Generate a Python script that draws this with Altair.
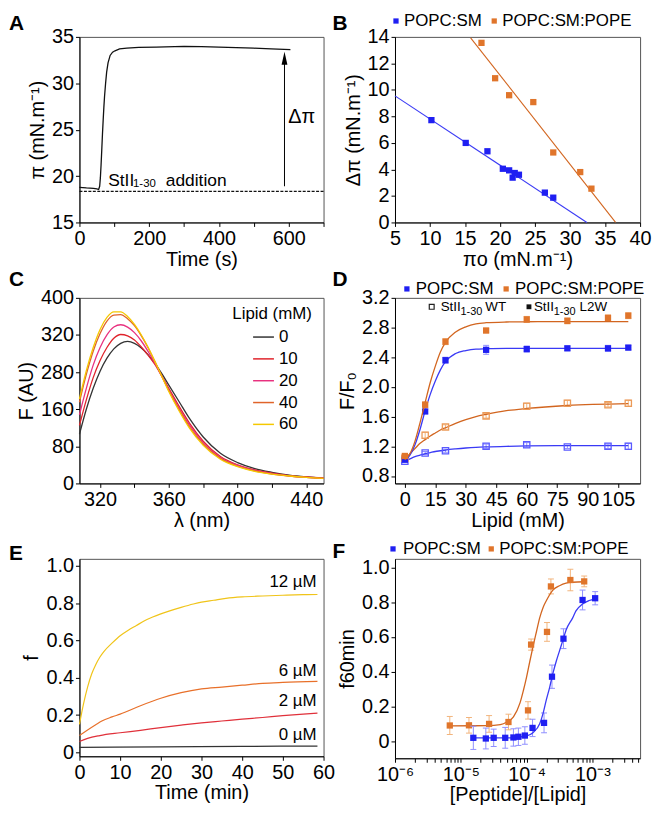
import altair as alt
import pandas as pd

FONT = "Liberation Sans"
BLACK = "#111111"
BLUE = "#1f1ff2"
ORANGE = "#e0752b"
BLUE_LINE = "#3a3af5"
ORANGE_LINE = "#d2651f"
BLUE_ERR = "#8f8fff"
ORANGE_ERR = "#f2b47c"
BLUE_OPEN = "#5a5aff"
ORANGE_OPEN = "#eb9a58"

W1, W2 = 246, 247
H1, H2 = 187, 187
HE, HF = 199, 201

# ---------------- Panel A data ----------------
a_time = [0, 20, 40, 50, 55, 58, 60, 62, 64, 66, 68, 70, 72, 75, 78, 82, 88, 95, 102, 115,
          136, 170, 220, 300, 350, 400, 450, 500, 550, 605]
a_pi = [18.78, 18.72, 18.68, 18.62, 18.55, 18.9, 19.8, 21.2, 22.8, 24.5, 26.0, 27.4, 28.6, 30.0,
        31.2, 32.2, 33.0, 33.35, 33.5, 33.7, 33.8, 33.87, 33.9, 33.97, 33.95, 33.9, 33.85, 33.78,
        33.7, 33.62]
a_baseline = [18.35]
a_arrow_t = [588]
a_arrow_from = [18.9]
a_arrow_to = [32.8]
a_head_at = [32.7]
a_xticks = [0, 100, 200, 300, 400, 500, 600, 700]
a_xlabels = ["0", "", "200", "", "400", "", "600", ""]
a_yticks = [15, 20, 25, 30, 35]
a_ylabels = ["15", "20", "25", "30", "35"]

# ---------------- Panel B data ----------------
b_series = ["POPC:SM", "POPC:SM:POPE"]
b_sm_x = [10.2, 15.1, 18.2, 20.4, 21.3, 21.8, 22.1, 22.7, 26.4, 27.6]
b_sm_y = [7.72, 6.0, 5.37, 4.05, 3.93, 3.38, 3.73, 3.6, 2.25, 1.87]
b_pe_x = [17.35, 19.3, 21.3, 24.75, 27.6, 31.45, 33.05]
b_pe_y = [13.55, 10.88, 9.6, 9.08, 5.28, 3.8, 2.55]
b_sm_fit_x = [5.0, 32.4]
b_sm_fit_y = [9.55, 0.0]
b_pe_fit_x = [15.8, 36.5]
b_pe_fit_y = [13.93, 0.0]
b_xticks = [5, 10, 15, 20, 25, 30, 35, 40]
b_xlabels = ["5", "10", "15", "20", "25", "30", "35", "40"]
b_yticks = [0, 2, 4, 6, 8, 10, 12, 14]
b_ylabels = ["0", "2", "4", "6", "8", "10", "12", "14"]

# ---------------- Panel C data ----------------
c_lipids = ["0", "10", "20", "40", "60"]
c_colors = ["#333333", "#e0232b", "#e8317f", "#e0642a", "#f5c800"]
c_wl = [308, 312, 316, 320, 324, 328, 332, 336, 340, 344, 348, 352, 356, 360, 366, 372, 380,
        390, 400, 410, 420, 430, 440, 450]
c_F0 = [106, 160, 205, 242, 270, 290, 302, 306, 302, 292, 277, 258, 236, 212, 176, 140, 100,
        65, 45, 32, 24, 18, 14, 11]
c_F10 = [125, 180, 228, 265, 293, 313, 321, 318, 309, 294, 276, 256, 231, 205, 166, 130, 91,
         58, 40, 29, 22, 17, 14, 12]
c_F20 = [148, 205, 255, 293, 320, 337, 342, 337, 325, 307, 284, 258, 230, 202, 162, 126, 88,
         56, 39, 28, 21, 16, 13, 11]
c_F40 = [175, 235, 285, 323, 350, 363, 364, 355, 340, 318, 292, 262, 231, 200, 159, 122, 85,
         54, 37, 27, 20, 16, 13, 11]
c_F60 = [182, 243, 293, 332, 358, 370, 370, 360, 343, 320, 293, 262, 230, 198, 156, 119, 82,
         52, 36, 26, 20, 16, 13, 11]
c_xticks = [320, 340, 360, 380, 400, 420, 440]
c_xlabels = ["320", "", "360", "", "400", "", "440"]
c_yticks = [0, 80, 160, 240, 320, 400]
c_ylabels = ["0", "80", "160", "280", "320", "400"]

# ---------------- Panel D data ----------------
d_x = [0, 10, 20, 40, 60, 80, 100, 110]
d_sm_l2w = [1.02, 1.67, 2.36, 2.50, 2.51, 2.52, 2.52, 2.53]
d_sm_l2w_err = [0.02, 0.03, 0.04, 0.06, 0.04, 0.03, 0.04, 0.03]
d_pe_l2w = [1.07, 1.76, 2.61, 2.76, 2.91, 2.89, 2.93, 2.96]
d_pe_l2w_err = [0.02, 0.04, 0.04, 0.03, 0.04, 0.04, 0.04, 0.04]
d_sm_wt = [1.0, 1.11, 1.14, 1.20, 1.22, 1.19, 1.20, 1.20]
d_sm_wt_err = [0.02, 0.02, 0.02, 0.03, 0.03, 0.02, 0.03, 0.04]
d_pe_wt = [1.04, 1.35, 1.46, 1.61, 1.74, 1.78, 1.76, 1.78]
d_pe_wt_err = [0.02, 0.04, 0.03, 0.03, 0.04, 0.04, 0.03, 0.04]
d_fit_x = [0, 2.5, 5, 7.5, 10, 12.5, 15, 17.5, 20, 25, 30, 35, 40, 50, 60, 80, 110]
d_sm_l2w_fit = [1.0, 1.08, 1.22, 1.43, 1.68, 1.9, 2.08, 2.23, 2.34, 2.45, 2.49, 2.51, 2.515,
                2.52, 2.52, 2.52, 2.52]
d_pe_l2w_fit = [1.02, 1.1, 1.27, 1.52, 1.79, 2.06, 2.28, 2.47, 2.6, 2.74, 2.81, 2.85, 2.865,
                2.875, 2.878, 2.88, 2.88]
d_sm_wt_fit = [1.0, 1.03, 1.06, 1.08, 1.1, 1.115, 1.13, 1.14, 1.15, 1.165, 1.177, 1.186, 1.192,
               1.2, 1.205, 1.21, 1.21]
d_pe_wt_fit = [1.03, 1.1, 1.17, 1.24, 1.29, 1.34, 1.38, 1.42, 1.45, 1.51, 1.56, 1.6, 1.63,
               1.68, 1.71, 1.75, 1.775]
d_xticks = [0, 15, 30, 45, 60, 75, 90, 105]
d_xlabels = ["0", "15", "30", "45", "60", "75", "90", "105"]
d_yticks = [0.8, 1.2, 1.6, 2.0, 2.4, 2.8, 3.2]
d_ylabels = ["0.8", "1.2", "1.6", "2.0", "2.4", "2.8", "3.2"]

# ---------------- Panel E data ----------------
e_labels = ["12 µM", "6 µM", "2 µM", "0 µM"]
e_colors = ["#f0c419", "#e8702a", "#e0303a", "#333333"]
e_t12 = [0, 1, 2, 3, 4, 5, 6, 8, 10, 12, 14, 16, 18, 20, 22, 25, 28, 30, 33, 36, 40, 45, 50, 55, 58.5]
e_f12 = [0.15, 0.26, 0.35, 0.42, 0.47, 0.51, 0.54, 0.585, 0.625, 0.655, 0.68, 0.705, 0.725, 0.742,
         0.757, 0.777, 0.795, 0.805, 0.815, 0.825, 0.833, 0.838, 0.842, 0.845, 0.846]
e_t6 = [0, 2, 4, 5.5, 8, 10, 15, 20, 25, 30, 35, 40, 45, 50, 58.5]
e_f6 = [0.09, 0.12, 0.148, 0.168, 0.19, 0.205, 0.25, 0.29, 0.32, 0.34, 0.35, 0.36, 0.37, 0.375, 0.38]
e_t2 = [0, 2, 5, 10, 15, 20, 25, 30, 35, 40, 45, 50, 55, 58.5]
e_f2 = [0.058, 0.075, 0.09, 0.105, 0.118, 0.133, 0.146, 0.158, 0.168, 0.178, 0.187, 0.197,
        0.205, 0.21]
e_t0 = [0, 20, 40, 58.5]
e_f0 = [0.027, 0.03, 0.032, 0.034]
e_xticks = [0, 10, 20, 30, 40, 50, 60]
e_xlabels = ["0", "10", "20", "30", "40", "50", "60"]
e_yticks = [0, 0.2, 0.4, 0.6, 0.8, 1.0]
e_ylabels = ["0", "0.2", "0.4", "0.6", "0.8", "1.0"]

# ---------------- Panel F data ----------------
f_pe_x = [6.8e-6, 1.33e-5, 2.69e-5, 5.3e-5, 1.05e-4, 1.17e-4, 2.04e-4, 2.34e-4, 4.62e-4, 7.5e-4]
f_pe_y = [0.09, 0.091, 0.099, 0.11, 0.177, 0.556, 0.629, 0.891, 0.928, 0.92]
f_pe_err = [0.052, 0.045, 0.048, 0.045, 0.05, 0.032, 0.054, 0.043, 0.062, 0.031]
f_sm_x = [1.55e-5, 2.4e-5, 3.16e-5, 4.73e-5, 6.3e-5, 7.5e-5, 9.4e-5, 1.23e-4, 1.84e-4,
          2.43e-4, 3.63e-4, 7.08e-4, 1.1e-3]
f_sm_y = [0.019, 0.015, 0.019, 0.019, 0.021, 0.025, 0.032, 0.076, 0.105, 0.371, 0.59, 0.813, 0.823]
f_sm_err = [0.067, 0.06, 0.05, 0.06, 0.05, 0.05, 0.05, 0.05, 0.057, 0.067, 0.057, 0.057, 0.038]
f_pe_fit_x = [6.76e-6, 2.51e-5, 3.98e-5, 5.01e-5, 6.31e-5, 7.94e-5, 8.91e-5, 1.0e-4, 1.12e-4,
              1.26e-4, 1.41e-4, 1.58e-4, 1.78e-4, 2.0e-4, 2.51e-4, 3.16e-4, 3.98e-4, 5.01e-4, 7.5e-4]
f_pe_fit_y = [0.088, 0.089, 0.095, 0.11, 0.14, 0.22, 0.29, 0.37, 0.46, 0.55, 0.63, 0.71, 0.77,
              0.81, 0.87, 0.895, 0.91, 0.915, 0.918]
f_sm_fit_x = [1.55e-5, 3.98e-5, 6.31e-5, 1.0e-4, 1.26e-4, 1.58e-4, 1.78e-4, 2.0e-4, 2.24e-4,
              2.51e-4, 2.82e-4, 3.16e-4, 3.55e-4, 3.98e-4, 5.01e-4, 5.62e-4, 7.08e-4, 8.91e-4, 1.1e-3]
f_sm_fit_y = [0.018, 0.018, 0.02, 0.03, 0.05, 0.1, 0.16, 0.24, 0.31, 0.39, 0.46, 0.52, 0.58,
              0.64, 0.71, 0.75, 0.79, 0.81, 0.82]
f_decades = [1e-6, 1e-5, 1e-4, 1e-3]
f_decade_labels = ["10⁻⁶", "10⁻⁵", "10⁻⁴", "10⁻³"]
f_mantissas = [1, 2, 3, 4, 5, 6, 7, 8, 9]
f_xmax = 5.3e-3
f_yticks = [0, 0.2, 0.4, 0.6, 0.8, 1.0]
f_ylabels = ["0", "0.2", "0.4", "0.6", "0.8", "1.0"]


# ---------------- helpers ----------------
def lab_expr(values, labels):
    expr = "''"
    for v, l in reversed(list(zip(values, labels))):
        tol = abs(v) * 1e-6 + 1e-12
        expr = f"abs(datum.value - ({v!r})) <= {tol!r} ? '{l}' : ({expr})"
    return expr


def txt(text, x, y, size=17, align="left", baseline="alphabetic", weight="normal", color="black"):
    return alt.Chart(pd.DataFrame({"txt": [text]})).mark_text(
        align=align, baseline=baseline, fontSize=size, font=FONT, fontWeight=weight, color=color
    ).encode(x=alt.value(x), y=alt.value(y), text="txt:N")


def square(x, y, color, size=30, filled=True):
    return alt.Chart(pd.DataFrame({"k": [0]})).mark_square(
        size=size, color=color, filled=filled, opacity=1, strokeWidth=1.2
    ).encode(x=alt.value(x), y=alt.value(y))


def errbars(df, X, Ylo, color, cap=6):
    rule = alt.Chart(df).mark_rule(color=color, strokeWidth=1).encode(x=X, y=Ylo, y2="hi:Q")
    lo = alt.Chart(df).mark_tick(color=color, orient="horizontal", size=cap, thickness=1,
                                 opacity=1).encode(x=X, y=Ylo)
    hi = alt.Chart(df).mark_tick(color=color, orient="horizontal", size=cap, thickness=1,
                                 opacity=1).encode(x=X, y=Ylo.copy().to_dict() and alt.Y(
                                     "hi:Q", scale=Ylo.scale, axis=Ylo.axis))
    return [rule, lo, hi]


# ---------------- Panel A ----------------
xA = alt.X("t:Q", scale=alt.Scale(domain=[0, 700], nice=False, zero=False),
           axis=alt.Axis(title="Time (s)", values=a_xticks, labelExpr=lab_expr(a_xticks, a_xlabels)))
yA = alt.Y("pi:Q", scale=alt.Scale(domain=[15, 35], nice=False, zero=False),
           axis=alt.Axis(title="π (mN.m⁻¹)", values=a_yticks, labelExpr=lab_expr(a_yticks, a_ylabels)))

panelA = alt.layer(
    alt.Chart(pd.DataFrame({"pi": a_baseline})).mark_rule(
        color=BLACK, strokeDash=[3, 1.5], strokeWidth=1.2).encode(y=yA),
    alt.Chart(pd.DataFrame({"t": a_time, "pi": a_pi})).mark_line(
        color=BLACK, strokeWidth=1.3).encode(x=xA, y=yA),
    alt.Chart(pd.DataFrame({"t": a_arrow_t, "pi": a_arrow_from, "pi2": a_arrow_to})).mark_rule(
        color="black", strokeWidth=1).encode(x=xA, y=yA, y2="pi2:Q"),
    alt.Chart(pd.DataFrame({"t": a_arrow_t, "pi": a_head_at})).mark_point(
        shape="M-0.45,1L0,-1L0.45,1Z", filled=True, size=170, color="black", opacity=1
    ).encode(x=xA, y=yA),
    txt("StII", 29, 150, 17.5), txt("1-30", 54, 151, 11.5), txt("addition", 87, 150, 17.5),
    txt("Δπ", 224, 81, 20, align="center", baseline="middle"),
    txt("A", -71, -24, 21, baseline="top", weight="bold"),
).properties(width=W1, height=H1)

# ---------------- Panel B ----------------
xB = alt.X("po:Q", scale=alt.Scale(domain=[5, 40], nice=False, zero=False),
           axis=alt.Axis(title="πo (mN.m⁻¹)", values=b_xticks, labelExpr=lab_expr(b_xticks, b_xlabels)))
yB = alt.Y("dp:Q", scale=alt.Scale(domain=[0, 14], nice=False, zero=False),
           axis=alt.Axis(title="Δπ (mN.m⁻¹)", values=b_yticks, labelExpr=lab_expr(b_yticks, b_ylabels)))

panelB = alt.layer(
    alt.Chart(pd.DataFrame({"po": b_sm_fit_x, "dp": b_sm_fit_y})).mark_line(
        color=BLUE_LINE, strokeWidth=1.1).encode(x=xB, y=yB),
    alt.Chart(pd.DataFrame({"po": b_pe_fit_x, "dp": b_pe_fit_y})).mark_line(
        color=ORANGE_LINE, strokeWidth=1.1).encode(x=xB, y=yB),
    alt.Chart(pd.DataFrame({"po": b_sm_x, "dp": b_sm_y})).mark_square(
        color=BLUE, size=40, opacity=1).encode(x=xB, y=yB),
    alt.Chart(pd.DataFrame({"po": b_pe_x, "dp": b_pe_y})).mark_square(
        color=ORANGE, size=40, opacity=1).encode(x=xB, y=yB),
    square(1, -16, BLUE, 28), txt(b_series[0], 9, -16, 17, baseline="middle"),
    square(100, -16, ORANGE, 28), txt(b_series[1], 108, -16, 17, baseline="middle"),
    txt("B", -63, -24, 21, baseline="top", weight="bold"),
).properties(width=W2, height=H1)

# ---------------- Panel C ----------------
xC = alt.X("wl:Q", scale=alt.Scale(domain=[308, 450], nice=False, zero=False),
           axis=alt.Axis(title="λ (nm)", values=c_xticks, labelExpr=lab_expr(c_xticks, c_xlabels)))
yC = alt.Y("F:Q", scale=alt.Scale(domain=[0, 400], nice=False, zero=False),
           axis=alt.Axis(title="F (AU)", values=c_yticks, labelExpr=lab_expr(c_yticks, c_ylabels)))
c_rows = []
for lip, vals in zip(c_lipids, [c_F0, c_F10, c_F20, c_F40, c_F60]):
    for w, f in zip(c_wl, vals):
        c_rows.append({"lipid": lip, "wl": w, "F": f})
dC = pd.DataFrame(c_rows)

panelC = alt.layer(
    alt.Chart(dC).mark_line(strokeWidth=1.3, interpolate="monotone").encode(
        x=xC, y=yC,
        color=alt.Color("lipid:N", sort=c_lipids,
                        scale=alt.Scale(domain=c_lipids, range=c_colors),
                        legend=alt.Legend(title="Lipid (mM)", orient="none", legendX=154, legendY=8,
                                          padding=0, symbolType="stroke", symbolSize=441,
                                          symbolStrokeWidth=1.5, symbolOffset=20, labelOffset=4,
                                          labelFontSize=17, labelFont=FONT, titleFontSize=17,
                                          titleFont=FONT, titleFontWeight="normal", rowPadding=2,
                                          titlePadding=3, labelColor="black", titleColor="black")),
        order=alt.Order("lipid:N")),
    txt("C", -71, -29, 21, baseline="top", weight="bold"),
).properties(width=W1, height=H2)

# ---------------- Panel D ----------------
sxD = alt.Scale(domain=[-4.85, 115.8], nice=False, zero=False)
syD = alt.Scale(domain=[0.7, 3.2], nice=False, zero=False)
axD = alt.Axis(title="Lipid (mM)", values=d_xticks, labelExpr=lab_expr(d_xticks, d_xlabels))
ayD = alt.Axis(title="F/F₀", values=d_yticks, labelExpr=lab_expr(d_yticks, d_ylabels))
xD = alt.X("lip:Q", scale=sxD, axis=axD)
yD = alt.Y("ff:Q", scale=syD, axis=ayD)
yDhi = alt.Y("hi:Q", scale=syD, axis=ayD)


def d_layers(vals, errs, fit, line_c, pt_c, err_c, filled):
    df = pd.DataFrame({"lip": d_x, "ff": [v - e for v, e in zip(vals, errs)],
                       "hi": [v + e for v, e in zip(vals, errs)]})
    pts = pd.DataFrame({"lip": d_x, "ff": vals})
    return [
        alt.Chart(df).mark_rule(color=err_c, strokeWidth=1).encode(x=xD, y=yD, y2="hi:Q"),
        alt.Chart(df).mark_tick(color=err_c, orient="horizontal", size=6, thickness=1, opacity=1).encode(x=xD, y=yD),
        alt.Chart(df).mark_tick(color=err_c, orient="horizontal", size=6, thickness=1, opacity=1).encode(x=xD, y=yDhi),
        alt.Chart(pd.DataFrame({"lip": d_fit_x, "ff": fit})).mark_line(
            color=line_c, strokeWidth=1.3, interpolate="monotone").encode(x=xD, y=yD),
        alt.Chart(pts).mark_square(color=pt_c, size=40, filled=filled, opacity=1,
                                   strokeWidth=1.3).encode(x=xD, y=yD),
    ]


panelD = alt.layer(
    *d_layers(d_sm_wt, d_sm_wt_err, d_sm_wt_fit, BLUE_LINE, BLUE_OPEN, BLUE_ERR, False),
    *d_layers(d_pe_wt, d_pe_wt_err, d_pe_wt_fit, ORANGE_LINE, ORANGE_OPEN, ORANGE_ERR, False),
    *d_layers(d_sm_l2w, d_sm_l2w_err, d_sm_l2w_fit, BLUE_LINE, BLUE, BLUE_ERR, True),
    *d_layers(d_pe_l2w, d_pe_l2w_err, d_pe_l2w_fit, ORANGE_LINE, ORANGE, ORANGE_ERR, True),
    square(12, -9, BLUE, 28), txt(b_series[0], 21, -9, 17, baseline="middle"),
    square(112, -9, ORANGE, 28), txt(b_series[1], 121, -9, 17, baseline="middle"),
    square(37, 9, "#222", 24, filled=False), txt("StII", 46, 13, 13.5), txt("1-30", 66, 17, 11),
    txt("WT", 91, 13, 13.5),
    square(135, 9, "#111", 24), txt("StII", 140, 13, 13.5), txt("1-30", 160, 17, 11),
    txt("L2W", 186, 13, 13.5),
    txt("D", -63, -29, 21, baseline="top", weight="bold"),
).properties(width=W2, height=H2)

# ---------------- Panel E ----------------
xE = alt.X("tm:Q", scale=alt.Scale(domain=[0, 60], nice=False, zero=False),
           axis=alt.Axis(title="Time (min)", values=e_xticks, labelExpr=lab_expr(e_xticks, e_xlabels)))
yE = alt.Y("fr:Q", scale=alt.Scale(domain=[-0.021, 1.037], nice=False, zero=False),
           axis=alt.Axis(title="f", values=e_yticks, labelExpr=lab_expr(e_yticks, e_ylabels)))
e_series = [(e_t0, e_f0), (e_t2, e_f2), (e_t6, e_f6), (e_t12, e_f12)]
e_cols = [e_colors[3], e_colors[2], e_colors[1], e_colors[0]]
e_lines = [
    alt.Chart(pd.DataFrame({"tm": t, "fr": f})).mark_line(
        color=c, strokeWidth=1.2, interpolate="monotone").encode(x=xE, y=yE)
    for (t, f), c in zip(e_series, e_cols)
]
panelE = alt.layer(
    *e_lines,
    txt(e_labels[0], 239, 23, 17, align="right", baseline="middle"),
    txt(e_labels[1], 239, 113, 17, align="right", baseline="middle"),
    txt(e_labels[2], 239, 143, 17, align="right", baseline="middle"),
    txt(e_labels[3], 239, 178, 17, align="right", baseline="middle"),
    txt("E", -71, -16, 21, baseline="top", weight="bold"),
).properties(width=W1, height=HE)

# ---------------- Panel F ----------------
f_xticks = [m * d for d in f_decades for m in f_mantissas if m * d <= f_xmax]
f_xlabels = [f_decade_labels[f_decades.index(d)] if m == 1 else ""
             for d in f_decades for m in f_mantissas if m * d <= f_xmax]
sxF = alt.Scale(type="log", domain=[1e-6, f_xmax], nice=False)
syF = alt.Scale(domain=[-0.099, 1.05], nice=False, zero=False)
axF = alt.Axis(title="[Peptide]/[Lipid]", values=f_xticks, labelExpr=lab_expr(f_xticks, f_xlabels))
ayF = alt.Axis(title="f60min", values=f_yticks, labelExpr=lab_expr(f_yticks, f_ylabels))
xF = alt.X("pl:Q", scale=sxF, axis=axF)
yF = alt.Y("fv:Q", scale=syF, axis=ayF)
yFhi = alt.Y("hi:Q", scale=syF, axis=ayF)


def f_layers(xs, ys, es, fx, fy, line_c, pt_c, err_c):
    df = pd.DataFrame({"pl": xs, "fv": [v - e for v, e in zip(ys, es)],
                       "hi": [v + e for v, e in zip(ys, es)]})
    return [
        alt.Chart(df).mark_rule(color=err_c, strokeWidth=1).encode(x=xF, y=yF, y2="hi:Q"),
        alt.Chart(df).mark_tick(color=err_c, orient="horizontal", size=6, thickness=1, opacity=1).encode(x=xF, y=yF),
        alt.Chart(df).mark_tick(color=err_c, orient="horizontal", size=6, thickness=1, opacity=1).encode(x=xF, y=yFhi),
        alt.Chart(pd.DataFrame({"pl": fx, "fv": fy})).mark_line(
            color=line_c, strokeWidth=1.3, interpolate="monotone").encode(x=xF, y=yF),
        alt.Chart(pd.DataFrame({"pl": xs, "fv": ys})).mark_square(
            color=pt_c, size=40, opacity=1).encode(x=xF, y=yF),
    ]


panelF = alt.layer(
    *f_layers(f_pe_x, f_pe_y, f_pe_err, f_pe_fit_x, f_pe_fit_y, ORANGE_LINE, ORANGE, ORANGE_ERR),
    *f_layers(f_sm_x, f_sm_y, f_sm_err, f_sm_fit_x, f_sm_fit_y, BLUE_LINE, BLUE, BLUE_ERR),
    square(-2, -10, BLUE, 28), txt(b_series[0], 8, -10, 17, baseline="middle"),
    square(97, -10, ORANGE, 28), txt(b_series[1], 105, -10, 17, baseline="middle"),
    txt("F", -63, -18, 21, baseline="top", weight="bold"),
).properties(width=W2, height=HF)

chart = alt.concat(
    panelA, panelB, panelC, panelD, panelE, panelF,
    columns=2, spacing={"row": 76, "column": 72}, bounds="flush", align="each",
).properties(padding=0).resolve_scale(color="independent").configure(
    font=FONT
).configure_axis(
    labelFont=FONT, titleFont=FONT, labelFontSize=20, titleFontSize=20, titleFontWeight="normal",
    labelColor="black", titleColor="black", domainColor="black", tickColor="black",
    tickSize=4, tickWidth=1, domainWidth=1, grid=False, labelPadding=2, titlePadding=4,
    labelFlush=False, labelOverlap=False, labelBound=False,
).configure_axisX(titlePadding=1).configure_view(stroke="#555555", strokeWidth=1)

chart.save("out.html", embed_options={"renderer": "svg", "actions": False})
